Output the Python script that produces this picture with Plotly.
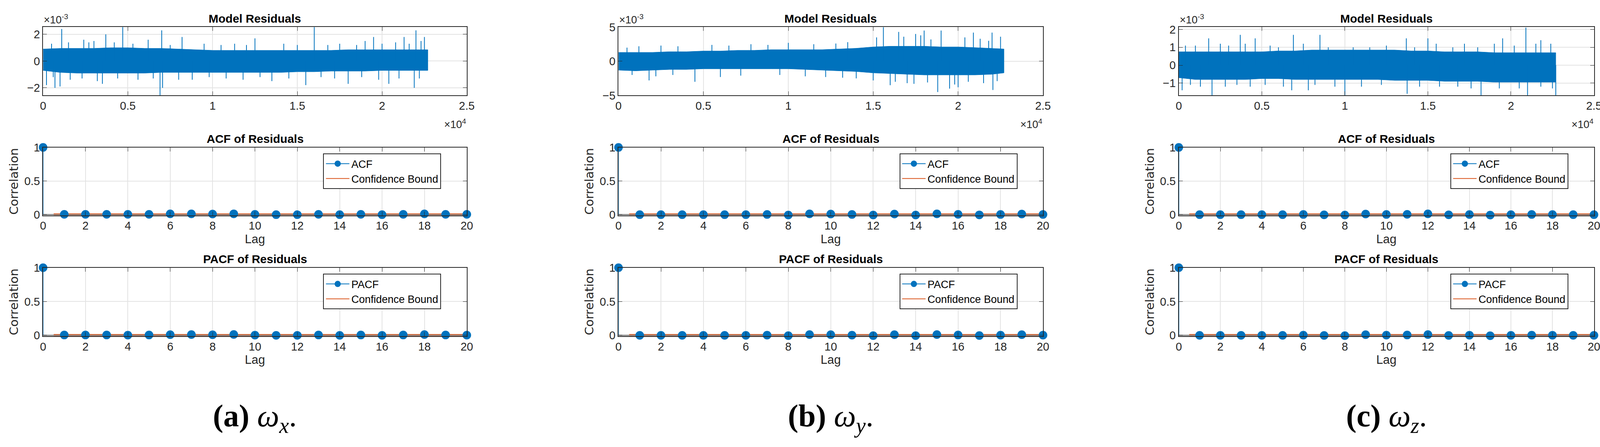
import plotly.graph_objects as go

W, H = 4185, 1145
BLUE = "#0072BD"; ORANGE = "#D95319"
FONT = "Liberation Sans"

lags = list(range(21))
# residual band envelopes (x in samples, values in 1e-3)
band_x = [0,1000,2000,3000,4000,5000,6000,7000,8000,9000,10000,11000,12000,13000,14000,15000,16000,17000,18000,19000,20000,21000,22000,22700]
res_up = {
 "a": [0.9,0.95,0.95,0.95,1.0,1.0,0.95,0.95,0.9,0.85,0.8,0.8,0.8,0.8,0.8,0.8,0.8,0.8,0.85,0.85,0.85,0.85,0.85,0.85],
 "b": [1.3,1.3,1.3,1.4,1.4,1.5,1.5,1.6,1.6,1.7,1.7,1.7,1.7,1.8,1.9,2.1,2.2,2.2,2.2,2.1,2.1,2.0,1.9,1.8],
 "c": [0.75,0.75,0.75,0.75,0.75,0.75,0.8,0.8,0.85,0.85,0.85,0.85,0.85,0.85,0.8,0.8,0.75,0.75,0.75,0.7,0.7,0.7,0.7,0.7],
}
res_lo = {
 "a": [-0.7,-0.85,-0.9,-0.9,-0.9,-0.9,-0.9,-0.85,-0.85,-0.85,-0.85,-0.85,-0.85,-0.85,-0.85,-0.8,-0.8,-0.75,-0.75,-0.75,-0.7,-0.7,-0.7,-0.7],
 "b": [-1.3,-1.4,-1.3,-1.2,-1.2,-1.1,-1.1,-1.1,-1.1,-1.1,-1.1,-1.2,-1.3,-1.4,-1.5,-1.7,-1.8,-1.9,-2.0,-2.0,-2.0,-2.0,-1.9,-1.7],
 "c": [-0.7,-0.8,-0.8,-0.8,-0.8,-0.75,-0.75,-0.8,-0.8,-0.8,-0.8,-0.8,-0.8,-0.85,-0.85,-0.85,-0.9,-0.9,-0.9,-0.95,-0.95,-0.95,-0.95,-0.95],
}
spike_x = {
 "a": [1100,4700,7000,3700,8200,16000,22000,19500,21300,12500,22500,700,6900,7050,21900,15500,20400,1000,3500,8000,13500,18000,200,
       500,1500,2400,2700,3000,4200,5300,6200,7500,9500,10500,11300,12000,14200,15000,16800,17500,18500,19000,20000,20800,21600,22300,
       600,1600,2300,3200,4400,5600,6500,8800,9800,10800,11800,12800,14500,16400,17200,18800,19800,21000,22200],
 "b": [15600,19000,20900,16500,18000,22000,17500,10000,18800,19500,22050,16000,17400,4500,1800,20000,14000,
       500,1200,2500,3500,5500,6500,7800,8800,11500,12800,13500,15200,16800,17800,18400,20400,21300,21800,22500,
       800,2200,3200,6000,7200,9500,11000,12200,13200,15000,16300,17000,18200,19800,20600,21500,22300],
 "c": [1800,3700,4600,6900,8500,13700,15000,19500,20900,21800,200,2000,6800,7800,10000,13750,18200,21000,22700,
       400,1000,2500,3000,4000,5500,6000,7500,9000,10500,11500,12500,14200,15500,16500,17200,18000,19000,20200,21500,22400,
       700,1300,2800,3500,4300,5200,6300,8200,9400,11000,12200,14500,15700,16800,17600,19300,20500,21800,22500],
}
spike_y = {
 "a": [2.4,2.6,2.3,2.0,1.8,2.6,2.3,1.8,1.8,1.7,1.8,-2.0,-2.6,-2.0,-2.0,-1.8,-1.7,-1.9,-1.7,-1.4,-1.5,-1.7,-1.8,
       1.3,1.4,1.6,1.4,1.5,1.4,1.3,1.6,1.2,1.3,1.2,1.3,1.2,1.3,1.2,1.2,1.3,1.2,1.5,1.3,1.4,1.3,1.5,
       -1.2,-1.4,-1.3,-1.5,-1.3,-1.4,-1.3,-1.4,-1.2,-1.3,-1.4,-1.2,-1.3,-1.2,-1.3,-1.2,-1.4,-1.3,-1.3],
 "b": [5.0,4.5,4.2,4.3,4.5,4.2,4.0,2.7,-4.5,-4.0,-4.2,-3.5,-3.3,-3.0,-2.8,-3.8,-2.5,
       2.0,2.2,2.3,2.2,2.4,2.3,2.5,2.4,2.5,2.6,2.8,3.5,3.6,3.8,3.2,3.5,3.3,3.0,3.6,
       -2.0,-2.2,-2.0,-2.3,-2.1,-2.0,-2.2,-2.3,-2.4,-2.8,-3.0,-3.2,-3.1,-3.4,-3.0,-3.2,-2.9],
 "c": [1.5,1.7,1.5,1.7,1.7,1.5,1.5,1.5,2.1,1.4,-1.4,-1.7,-1.4,-1.4,-1.7,-1.6,-1.7,-1.7,-1.7,
       1.1,1.1,1.2,1.1,1.2,1.1,1.0,1.2,1.0,1.0,1.0,1.1,1.0,1.2,1.0,1.2,1.0,1.2,1.1,1.2,1.2,
       -1.1,-1.2,-1.2,-1.1,-1.2,-1.1,-1.2,-1.1,-1.2,-1.2,-1.1,-1.2,-1.2,-1.2,-1.3,-1.3,-1.3,-1.2,-1.3],
}
res_range = {"a": [-2.57, 2.54], "b": [-5, 5], "c": [-1.69, 2.13]}
res_ticks = {"a": [-2, 0, 2], "b": [-5, 0, 5], "c": [-1, 0, 1, 2]}

acf = {
 "a": [1,0.005,0.005,0.005,0.005,0.005,0.012,0.012,0.01,0.013,0.005,0.0,0.0,0.005,0.0,0.005,0.0,0.005,0.012,0.005,0.005],
 "b": [1,0.0,0.0,0.0,0.0,0.0,0.0,0.003,-0.005,0.012,0.01,0.003,-0.005,0.01,-0.005,0.012,0.005,-0.003,0.003,0.01,0.003],
 "c": [1,0.0,0.0,0.0,0.0,0.0,0.003,-0.002,-0.005,0.01,0.003,0.005,0.012,-0.002,0.002,-0.006,0.0,0.003,0.002,0.0,0.0],
}
pacf = {
 "a": [1,0.005,0.005,0.005,0.003,0.005,0.01,0.012,0.008,0.013,0.003,0.0,0.0,0.005,0.0,0.005,0.0,0.005,0.012,0.005,0.003],
 "b": [1,0.0,0.0,0.0,0.0,0.0,0.0,0.003,-0.005,0.012,0.01,0.003,-0.005,0.01,-0.005,0.012,0.005,-0.003,0.003,0.01,0.003],
 "c": [1,0.0,0.0,0.0,0.0,0.0,0.003,-0.002,-0.005,0.01,0.003,0.005,0.012,-0.002,0.002,-0.006,0.0,0.003,0.002,0.0,0.0],
}
conf = 0.013
captions = {"a": "<b>(a)</b> <i>ω<sub>x</sub></i>.", "b": "<b>(b)</b> <i>ω<sub>y</sub></i>.", "c": "<b>(c)</b> <i>ω<sub>z</sub></i>."}

cols = {"a": (103, 1195), "b": (1586, 2680), "c": (3030, 4100)}
rows = [(55, 235), (372, 551), (689, 869)]

fig = go.Figure()
layout = dict(width=W, height=H, margin=dict(l=0, r=0, t=0, b=0),
              plot_bgcolor="white", paper_bgcolor="white", showlegend=True,
              font=dict(family=FONT, size=28, color="#262626"))
ann = []
n = 0
def axstyle(**kw):
    d = dict(showline=True, linecolor="#262626", linewidth=2, mirror="allticks",
             ticks="inside", ticklen=10, tickcolor="#262626", showgrid=True,
             gridcolor="#E3E3E3", gridwidth=1.5, zeroline=False,
             tickfont=dict(size=29, family=FONT, color="#262626"))
    d.update(kw); return d

for ci, key in enumerate(["a", "b", "c"]):
    x0, x1 = cols[key]
    for ri, (t0, t1) in enumerate(rows):
        n += 1
        xa = "x" if n == 1 else f"x{n}"; ya = "y" if n == 1 else f"y{n}"
        xn = "xaxis" if n == 1 else f"xaxis{n}"; yn = "yaxis" if n == 1 else f"yaxis{n}"
        xd = [x0 / W, x1 / W]; yd = [1 - t1 / H, 1 - t0 / H]
        title = ["Model Residuals", "ACF of Residuals", "PACF of Residuals"][ri]
        ann.append(dict(text=f"<b>{title}</b>", x=(x0 + x1) / 2 / W, y=1 - (t0 - 4) / H,
                        xref="paper", yref="paper", xanchor="center", yanchor="bottom",
                        showarrow=False, font=dict(size=30, family=FONT, color="black")))
        if ri == 0:
            up = res_up[key]; lo = res_lo[key]
            fig.add_trace(go.Scatter(x=band_x + band_x[::-1], y=up + lo[::-1], fill="toself",
                                     fillcolor=BLUE, line=dict(color=BLUE, width=1), mode="lines",
                                     showlegend=False, xaxis=xa, yaxis=ya, hoverinfo="skip"))
            sx, sy = [], []
            for a, b in zip(spike_x[key], spike_y[key]):
                sx += [a, a, None]; sy += [0, b, None]
            fig.add_trace(go.Scatter(x=sx, y=sy, mode="lines", line=dict(color=BLUE, width=2),
                                     showlegend=False, xaxis=xa, yaxis=ya))
            layout[xn] = axstyle(domain=xd, range=[0, 25000], tickvals=[0, 5000, 10000, 15000, 20000, 25000],
                                 ticktext=["0", "0.5", "1", "1.5", "2", "2.5"], anchor=ya)
            layout[yn] = axstyle(domain=yd, range=res_range[key], tickvals=res_ticks[key], anchor=xa)
            ann.append(dict(text="×10<sup>-3</sup>", x=x0 / W, y=1 - (t0 - 2) / H, xref="paper", yref="paper",
                            xanchor="left", yanchor="bottom", showarrow=False, font=dict(size=27, family=FONT)))
            ann.append(dict(text="×10<sup>4</sup>", x=x1 / W, y=1 - (t1 + 55) / H, xref="paper", yref="paper",
                            xanchor="right", yanchor="top", showarrow=False, font=dict(size=27, family=FONT)))
        else:
            vals = acf[key] if ri == 1 else pacf[key]
            nm = "ACF" if ri == 1 else "PACF"
            lg = f"legend{n}"
            fig.add_trace(go.Scatter(x=[0, 20], y=[0, 0], mode="lines", line=dict(color="#808080", width=3),
                                     showlegend=False, xaxis=xa, yaxis=ya))
            sx, sy = [], []
            for a, b in zip(lags, vals):
                sx += [a, a, None]; sy += [0, b, None]
            fig.add_trace(go.Scatter(x=sx, y=sy, mode="lines", line=dict(color=BLUE, width=2),
                                     showlegend=False, xaxis=xa, yaxis=ya))
            for s in (1, -1):
                fig.add_trace(go.Scatter(x=[0.5, 20], y=[s * conf, s * conf], mode="lines",
                                         line=dict(color=ORANGE, width=2), showlegend=False,
                                         xaxis=xa, yaxis=ya))
            fig.add_trace(go.Scatter(x=lags, y=vals, mode="markers", marker=dict(color=BLUE, size=22),
                                     showlegend=False, xaxis=xa, yaxis=ya, cliponaxis=False))
            fig.add_trace(go.Scatter(x=[None], y=[None], mode="lines+markers", name=nm,
                                     line=dict(color=BLUE, width=2), marker=dict(color=BLUE, size=22),
                                     legend=lg, xaxis=xa, yaxis=ya))
            fig.add_trace(go.Scatter(x=[None], y=[None], mode="lines", name="Confidence Bound",
                                     line=dict(color=ORANGE, width=2), legend=lg, xaxis=xa, yaxis=ya))
            layout[lg] = dict(x=(x1 - 370) / W, y=1 - (t0 + 16) / H, xanchor="left", yanchor="top",
                              bgcolor="white", bordercolor="#262626", borderwidth=2,
                              font=dict(size=27, family=FONT, color="black"), tracegroupgap=0,
                              itemwidth=60)
            layout[xn] = axstyle(domain=xd, range=[0, 20], tickvals=list(range(0, 21, 2)), anchor=ya,
                                 title=dict(text="Lag", font=dict(size=31, family=FONT), standoff=8))
            layout[yn] = axstyle(domain=yd, range=[-0.01, 1], tickvals=[0, 0.5, 1],
                                 ticktext=["0", "0.5", "1"], anchor=xa,
                                 title=dict(text="Correlation", font=dict(size=31, family="DejaVu Sans"), standoff=6))
    ann.append(dict(text=captions[key], x=(x0 + x1) / 2 / W, y=1 - 1085 / H, xref="paper", yref="paper",
                    xanchor="center", yanchor="middle", showarrow=False,
                    font=dict(size=80, family="Liberation Serif", color="black")))

layout["annotations"] = ann
fig.update_layout(**layout)
fig.write_html("out.html", config={"displayModeBar": False},
               post_script="document.body.style.margin='0';document.body.style.overflow='hidden';")
